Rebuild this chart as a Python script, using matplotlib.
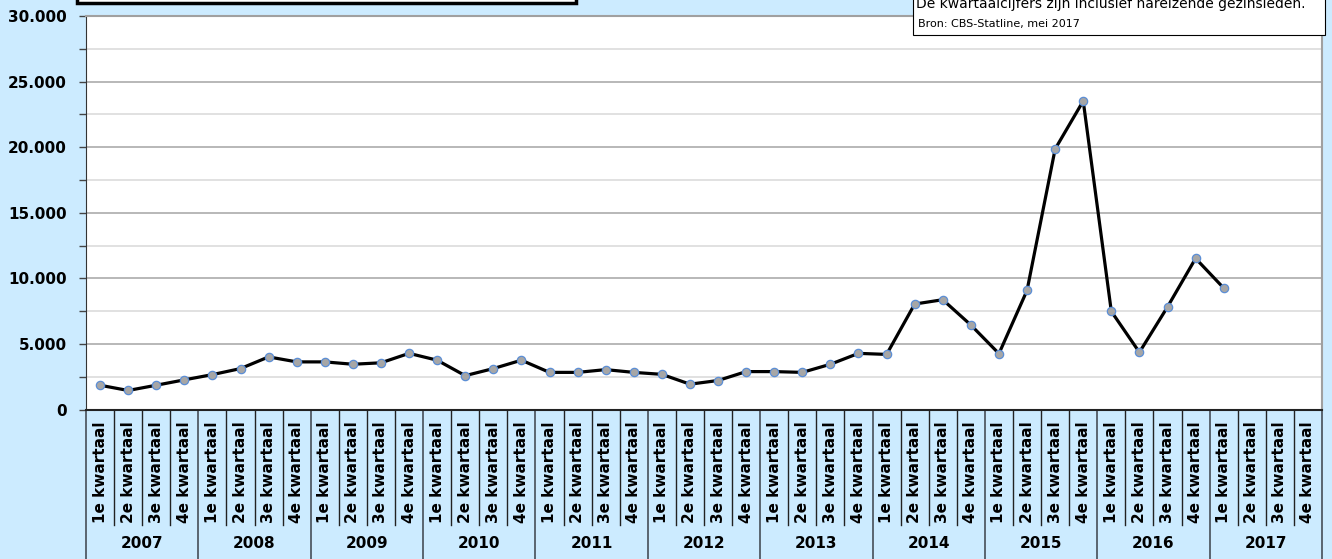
import numpy as np
import matplotlib.pyplot as plt
from matplotlib.patches import Rectangle
from matplotlib.ticker import MultipleLocator, FuncFormatter

# Asielverzoeken per kwartaal (CBS-Statline, mei 2017)
years = ["2007", "2008", "2009", "2010", "2011", "2012",
         "2013", "2014", "2015", "2016", "2017"]
quarters = ["1e kwartaal", "2e kwartaal", "3e kwartaal", "4e kwartaal"]
values = [1850, 1450, 1850, 2260,
          2660, 3120, 4010, 3630,
          3630, 3450, 3560, 4280,
          3760, 2580, 3120, 3760,
          2830, 2830, 3040, 2830,
          2680, 1930, 2210, 2890,
          2890, 2830, 3450, 4280,
          4200, 8040, 8370, 6440,
          4260, 9080, 19860, 23520,
          7480, 4360, 7820, 11520,
          9260, np.nan, np.nan, np.nan]

bg = "#CCEBFF"
W, H = 1332, 559

fig = plt.figure(figsize=(W / 100, H / 100), dpi=100, facecolor=bg)
ax = fig.add_axes([86 / W, 149.5 / H, (1322 - 86) / W, (409.5 - 16) / H])
ax.set_facecolor("white")

n = len(values)
x = np.arange(n)
ax.plot(x, values, color="black", lw=2.3, marker="o", ms=6,
        mfc="#A6A6A6", mec="#5B8ED6", mew=0.9, zorder=3)

ax.set_xlim(-0.5, n - 0.5)
ax.set_ylim(0, 30000)
ax.yaxis.set_major_locator(MultipleLocator(5000))
ax.yaxis.set_minor_locator(MultipleLocator(2500))
ax.yaxis.set_major_formatter(FuncFormatter(lambda v, p: f"{int(v):,}".replace(",", ".")))
ax.grid(axis="y", which="major", color="#ABABAB", lw=1.2)
ax.grid(axis="y", which="minor", color="#DCDCDC", lw=1.2)
ax.set_axisbelow(True)
ax.tick_params(axis="y", which="both", length=5, width=1, color="#444444",
               labelsize=11, pad=9)
for lab in ax.get_yticklabels():
    lab.set_fontweight("bold")
ax.set_xticks([])

for s in ["top", "right"]:
    ax.spines[s].set_color("#A0A0A0")
    ax.spines[s].set_linewidth(1.5)
ax.spines["left"].set_color("#333333")
ax.spines["bottom"].set_color("#222222")
ax.spines["bottom"].set_linewidth(1.5)

# category axis with quarter and year labels
trans = ax.get_xaxis_transform()
ah = 409.5 - 16
y_sep = -(525 - 409.5) / ah
y_bot = -(559 - 409.5) / ah
y_qlab = -(523 - 409.5) / ah
y_year = -(543 - 409.5) / ah
for i in range(n + 1):
    if i % 4 == 0:
        ax.plot([i - 0.5, i - 0.5], [0, y_bot], transform=trans, color="#505A64",
                lw=1.3, clip_on=False)
    else:
        ax.plot([i - 0.5, i - 0.5], [0, y_sep], transform=trans, color="#222222",
                lw=1.0, clip_on=False)
for i in range(n):
    ax.text(i, y_qlab, quarters[i % 4], transform=trans, rotation=90,
            ha="center", va="bottom", fontsize=11, fontweight="bold")
for j, yr in enumerate(years):
    ax.text(4 * j + 1.5, y_year, yr, transform=trans, ha="center", va="center",
            fontsize=11, fontweight="bold")

# boxes at the top (partly cut off)
fig.patches.append(Rectangle((77 / W, (H - 3) / H), (576 - 77) / W, 40 / H,
                             transform=fig.transFigure, facecolor="white",
                             edgecolor="black", lw=2.5, zorder=5))
fig.patches.append(Rectangle((913 / W, (H - 35) / H), (1325 - 913) / W, 60 / H,
                             transform=fig.transFigure, facecolor="white",
                             edgecolor="black", lw=0.8, zorder=5))
fig.text(916 / W, (H - 4) / H, "De kwartaalcijfers zijn inclusief nareizende gezinsleden.",
         fontsize=10, va="center", ha="left", zorder=6)
fig.text(918 / W, (H - 24) / H, "Bron: CBS-Statline, mei 2017",
         fontsize=8, va="center", ha="left", zorder=6)

fig.savefig("out.png", dpi=100, facecolor=bg)
